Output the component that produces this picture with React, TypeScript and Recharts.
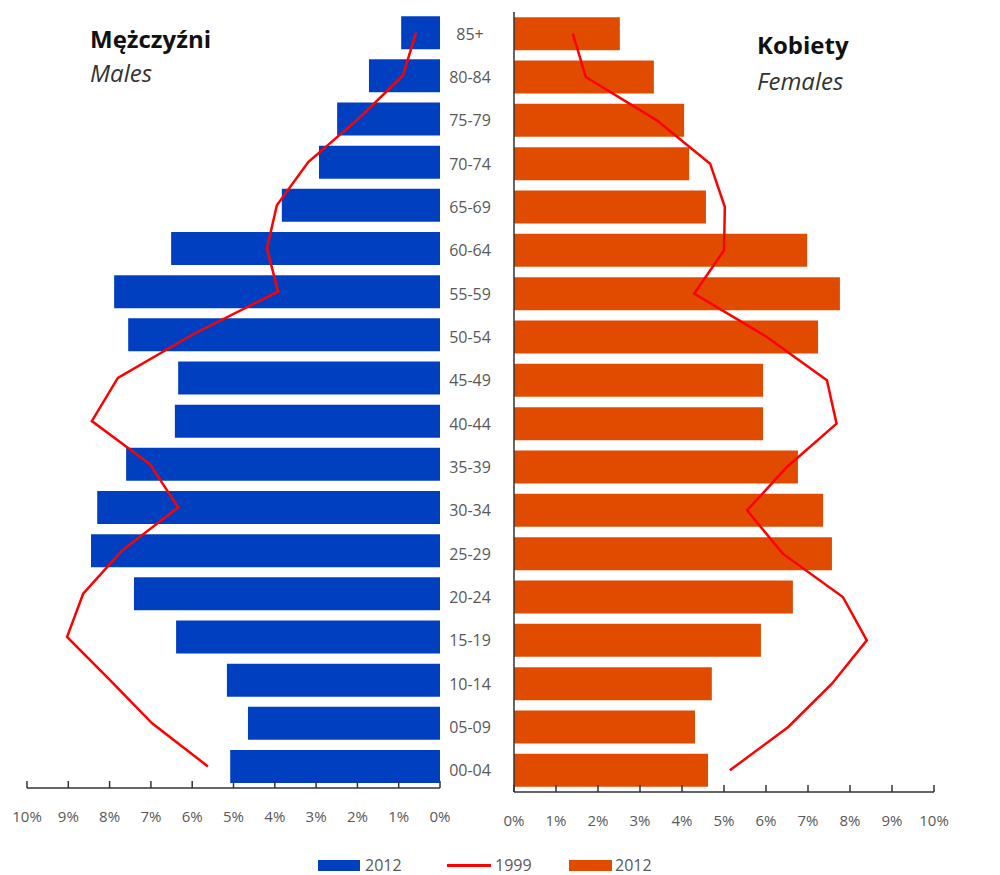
import { Bar, ComposedChart, Line, XAxis, YAxis } from "recharts";

const ageGroups = ["85+", "80-84", "75-79", "70-74", "65-69", "60-64", "55-59", "50-54", "45-49", "40-44", "35-39", "30-34", "25-29", "20-24", "15-19", "10-14", "05-09", "00-04"];
const males2012 = [0.94, 1.72, 2.49, 2.93, 3.83, 6.51, 7.89, 7.55, 6.34, 6.42, 7.6, 8.3, 8.45, 7.41, 6.39, 5.16, 4.65, 5.08];
const males1999 = [0.58, 0.9, 1.98, 3.19, 3.95, 4.19, 3.92, 6.0, 7.8, 8.43, 7.02, 6.34, 7.7, 8.64, 9.03, 7.99, 6.97, 5.62];
const females2012 = [2.52, 3.33, 4.05, 4.17, 4.57, 6.98, 7.76, 7.24, 5.93, 5.93, 6.76, 7.36, 7.57, 6.64, 5.88, 4.71, 4.31, 4.62];
const females1999 = [1.4, 1.71, 3.4, 4.67, 5.02, 5.0, 4.29, 6.02, 7.45, 7.68, 6.5, 5.55, 6.4, 7.83, 8.4, 7.57, 6.53, 5.14];
const pctTicks = [0, 1, 2, 3, 4, 5, 6, 7, 8, 9, 10];

const BLUE = "#0040c0";
const ORANGE = "#e04b00";
const RED = "#ff0000";
const AXIS = "#333333";
const GRAY = "#595959";
const FONT = "'Open Sans', sans-serif";

const males = ageGroups.map((age, i) => ({ age, y2012: males2012[i], y1999: males1999[i] }));
const females = ageGroups.map((age, i) => ({ age, y2012: females2012[i], y1999: females1999[i] }));

function PctTick(props: any) {
  const { x, y, payload } = props;
  return (
    <g>
      <line x1={x} x2={x} y1={y} y2={y - 7} stroke={AXIS} strokeWidth={1.5} />
      <text x={x} y={y + 34} textAnchor="middle" fill={GRAY} fontSize={15} fontFamily={FONT}>
        {payload.value}%
      </text>
    </g>
  );
}

function AgeTick(props: any) {
  const { x, y, payload } = props;
  return (
    <text x={x - 44} y={y} dy={6} textAnchor="middle" fill={GRAY} fontSize={16} fontFamily={FONT}>
      {payload.value}
    </text>
  );
}

export default function App() {
  return (
    <div style={{ position: "absolute", left: 0, top: 0, width: 1000, height: 875, background: "#fff", fontFamily: FONT }}>
      <div style={{ position: "absolute", left: 0, top: 0 }}>
        <ComposedChart layout="vertical" width={460} height={840} data={males} margin={{ top: 11, right: 20, bottom: 12, left: 27 }} barCategoryGap="12%">
          <XAxis type="number" reversed domain={[0, 10]} ticks={pctTicks} height={40} tickSize={0} tickMargin={0} tickLine={false}
            axisLine={{ stroke: AXIS, strokeWidth: 1.5 }} tick={(p: any) => <PctTick {...p} />} interval={0} />
          <YAxis type="category" dataKey="age" orientation="right" width={0} tick={false} tickLine={false}
            axisLine={{ stroke: AXIS, strokeWidth: 1.5 }} />
          <Bar dataKey="y2012" fill={BLUE} isAnimationActive={false} />
          <Line type="linear" dataKey="y1999" stroke={RED} strokeWidth={2.5} dot={false} isAnimationActive={false} />
        </ComposedChart>
      </div>
      <div style={{ position: "absolute", left: 440, top: 0 }}>
        <ComposedChart layout="vertical" width={560} height={840} data={females} margin={{ top: 12, right: 66, bottom: 8, left: 0 }} barCategoryGap="12%">
          <XAxis type="number" domain={[0, 10]} ticks={pctTicks} height={40} tickSize={0} tickMargin={0} tickLine={false}
            axisLine={{ stroke: AXIS, strokeWidth: 1.5 }} tick={(p: any) => <PctTick {...p} />} interval={0} />
          <YAxis type="category" dataKey="age" width={74} tickSize={0} tickMargin={0} tickLine={false} interval={0}
            axisLine={{ stroke: AXIS, strokeWidth: 1.5 }} tick={(p: any) => <AgeTick {...p} />} />
          <Bar dataKey="y2012" fill={ORANGE} isAnimationActive={false} />
          <Line type="linear" dataKey="y1999" stroke={RED} strokeWidth={2.5} dot={false} isAnimationActive={false} />
        </ComposedChart>
      </div>

      <div style={{ position: "absolute", left: 90, top: 22, lineHeight: "34px" }}>
        <div style={{ fontSize: 24, fontWeight: 700, color: "#111" }}>Mężczyźni</div>
        <div style={{ fontSize: 24, fontStyle: "italic", color: "#333" }}>Males</div>
      </div>
      <div style={{ position: "absolute", left: 757, top: 27, lineHeight: "36px" }}>
        <div style={{ fontSize: 24, fontWeight: 700, color: "#111" }}>Kobiety</div>
        <div style={{ fontSize: 24, fontStyle: "italic", color: "#333" }}>Females</div>
      </div>

      <div style={{ position: "absolute", left: 318, top: 854, height: 22, display: "flex", alignItems: "center", fontSize: 16, color: GRAY }}>
        <span style={{ display: "inline-block", width: 42, height: 11, background: BLUE, marginRight: 5 }} />
        <span style={{ width: 82 }}>2012</span>
        <span style={{ display: "inline-block", width: 44, height: 3, background: RED, marginRight: 4 }} />
        <span style={{ width: 74 }}>1999</span>
        <span style={{ display: "inline-block", width: 43, height: 11, background: ORANGE, marginRight: 3 }} />
        <span>2012</span>
      </div>
    </div>
  );
}
